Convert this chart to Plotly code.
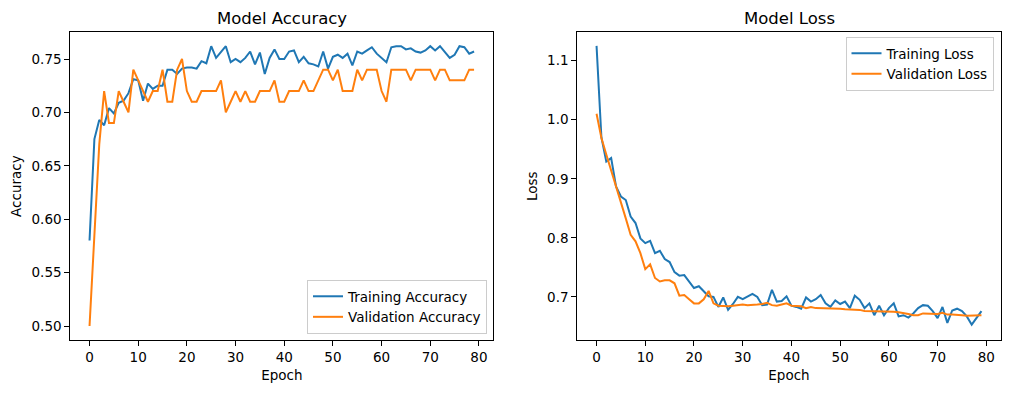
import plotly.graph_objects as go

epochs = list(range(80))

train_acc = [0.580, 0.675, 0.693, 0.688, 0.704, 0.699, 0.709, 0.711, 0.718, 0.731,
             0.730, 0.711, 0.727, 0.722, 0.725, 0.725, 0.740, 0.740, 0.736, 0.741,
             0.742, 0.742, 0.741, 0.748, 0.746, 0.762, 0.751, 0.757, 0.762, 0.747,
             0.750, 0.747, 0.751, 0.757, 0.745, 0.756, 0.736, 0.751, 0.759, 0.750,
             0.750, 0.757, 0.758, 0.747, 0.752, 0.746, 0.745, 0.743, 0.757, 0.741,
             0.752, 0.754, 0.751, 0.755, 0.744, 0.757, 0.755, 0.758, 0.761, 0.755,
             0.751, 0.747, 0.761, 0.762, 0.762, 0.759, 0.760, 0.757, 0.756, 0.758,
             0.762, 0.758, 0.762, 0.756, 0.751, 0.754, 0.762, 0.761, 0.755, 0.757]

val_acc = [0.50, 0.585, 0.67, 0.72, 0.69, 0.69, 0.72, 0.71, 0.70, 0.74,
           0.73, 0.72, 0.71, 0.72, 0.72, 0.74, 0.71, 0.71, 0.74, 0.75,
           0.72, 0.71, 0.71, 0.72, 0.72, 0.72, 0.72, 0.73, 0.70, 0.71,
           0.72, 0.71, 0.72, 0.71, 0.71, 0.72, 0.72, 0.72, 0.73, 0.71,
           0.71, 0.72, 0.72, 0.72, 0.73, 0.72, 0.72, 0.73, 0.74, 0.74,
           0.73, 0.74, 0.72, 0.72, 0.72, 0.74, 0.73, 0.74, 0.74, 0.74,
           0.72, 0.71, 0.74, 0.74, 0.74, 0.74, 0.73, 0.74, 0.74, 0.74,
           0.74, 0.73, 0.74, 0.74, 0.73, 0.73, 0.73, 0.73, 0.74, 0.74]

train_loss = [1.125, 0.970, 0.929, 0.935, 0.887, 0.870, 0.864, 0.836, 0.825, 0.799,
              0.791, 0.795, 0.774, 0.778, 0.764, 0.759, 0.742, 0.736, 0.737, 0.726,
              0.715, 0.718, 0.709, 0.701, 0.700, 0.683, 0.699, 0.678, 0.688, 0.700,
              0.696, 0.700, 0.705, 0.700, 0.686, 0.687, 0.712, 0.692, 0.693, 0.701,
              0.685, 0.683, 0.680, 0.699, 0.692, 0.696, 0.703, 0.689, 0.683, 0.694,
              0.688, 0.692, 0.681, 0.702, 0.695, 0.681, 0.689, 0.669, 0.685, 0.669,
              0.681, 0.689, 0.667, 0.669, 0.665, 0.672, 0.681, 0.686, 0.685, 0.676,
              0.664, 0.683, 0.656, 0.677, 0.680, 0.676, 0.667, 0.653, 0.664, 0.676]

val_loss = [1.010, 0.969, 0.941, 0.915, 0.888, 0.862, 0.833, 0.805, 0.794, 0.774,
            0.747, 0.755, 0.732, 0.726, 0.728, 0.728, 0.723, 0.702, 0.703, 0.696,
            0.689, 0.689, 0.696, 0.710, 0.689, 0.685, 0.684, 0.684, 0.685, 0.686,
            0.687, 0.686, 0.686, 0.687, 0.688, 0.690, 0.686, 0.685, 0.687, 0.689,
            0.685, 0.684, 0.684, 0.681, 0.683, 0.681, 0.681, 0.680, 0.680, 0.680,
            0.680, 0.679, 0.679, 0.678, 0.678, 0.676, 0.676, 0.676, 0.675, 0.676,
            0.676, 0.675, 0.674, 0.673, 0.671, 0.669, 0.669, 0.672, 0.672, 0.672,
            0.671, 0.673, 0.670, 0.670, 0.670, 0.669, 0.668, 0.668, 0.669, 0.669]

BLUE = "#1f77b4"
ORANGE = "#ff7f0e"
FONT = "DejaVu Sans"
OFF = 8  # page body margin
W, H = 1010 - OFF, 393 - OFF

def px_x(p):
    return (p - OFF) / W

def px_y(p):
    return (H - (p - OFF)) / H

fig = go.Figure()
fig.add_trace(go.Scatter(x=epochs, y=train_acc, mode="lines", name="Training Accuracy",
                         line=dict(color=BLUE, width=2), xaxis="x", yaxis="y", legend="legend"))
fig.add_trace(go.Scatter(x=epochs, y=val_acc, mode="lines", name="Validation Accuracy",
                         line=dict(color=ORANGE, width=2), xaxis="x", yaxis="y", legend="legend"))
fig.add_trace(go.Scatter(x=epochs, y=train_loss, mode="lines", name="Training Loss",
                         line=dict(color=BLUE, width=2), xaxis="x2", yaxis="y2", legend="legend2"))
fig.add_trace(go.Scatter(x=epochs, y=val_loss, mode="lines", name="Validation Loss",
                         line=dict(color=ORANGE, width=2), xaxis="x2", yaxis="y2", legend="legend2"))

axis_common = dict(showline=True, linecolor="black", linewidth=1, mirror=True,
                   ticks="outside", ticklen=5, tickwidth=1, tickcolor="black",
                   showgrid=False, zeroline=False, automargin=False,
                   tickfont=dict(family=FONT, size=13.5, color="black"))

ydom = [px_y(340), px_y(32.3)]

fig.update_layout(
    width=W, height=H,
    margin=dict(l=0, r=0, t=0, b=0, autoexpand=False),
    paper_bgcolor="white", plot_bgcolor="white",
    font=dict(family=FONT, size=13.5, color="black"),
    xaxis=dict(domain=[px_x(70.3), px_x(493.3)], range=[-3.95, 82.95], tick0=0, dtick=10,
               title=dict(text="Epoch", font=dict(family=FONT, size=13.5), standoff=6),
               anchor="y", **axis_common),
    yaxis=dict(domain=ydom, range=[0.4869, 0.775], tick0=0.5, dtick=0.05, tickformat=".2f",
               title=dict(text="Accuracy", font=dict(family=FONT, size=13.5), standoff=6),
               anchor="x", **axis_common),
    xaxis2=dict(domain=[px_x(577.3), px_x(1000.7)], range=[-3.95, 82.95], tick0=0, dtick=10,
                title=dict(text="Epoch", font=dict(family=FONT, size=13.5), standoff=6),
                anchor="y2", **axis_common),
    yaxis2=dict(domain=ydom, range=[0.627, 1.148], tick0=0.7, dtick=0.1, tickformat=".1f",
                title=dict(text="Loss", font=dict(family=FONT, size=13.5), standoff=6),
                anchor="x2", **axis_common),
    legend=dict(x=px_x(487), y=px_y(334), xanchor="right", yanchor="bottom",
                bgcolor="rgba(255,255,255,0.8)", bordercolor="#cccccc", borderwidth=1,
                font=dict(family=FONT, size=13.5), tracegroupgap=0),
    legend2=dict(x=px_x(993.5), y=px_y(37), xanchor="right", yanchor="top",
                 bgcolor="rgba(255,255,255,0.8)", bordercolor="#cccccc", borderwidth=1,
                 font=dict(family=FONT, size=13.5), tracegroupgap=0),
    annotations=[
        dict(text="Model Accuracy", x=px_x(281.8), y=px_y(18), xref="paper", yref="paper",
             showarrow=False, xanchor="center", yanchor="middle",
             font=dict(family=FONT, size=16.5, color="black")),
        dict(text="Model Loss", x=px_x(789), y=px_y(18), xref="paper", yref="paper",
             showarrow=False, xanchor="center", yanchor="middle",
             font=dict(family=FONT, size=16.5, color="black")),
    ],
)

fig.write_html("out.html")
